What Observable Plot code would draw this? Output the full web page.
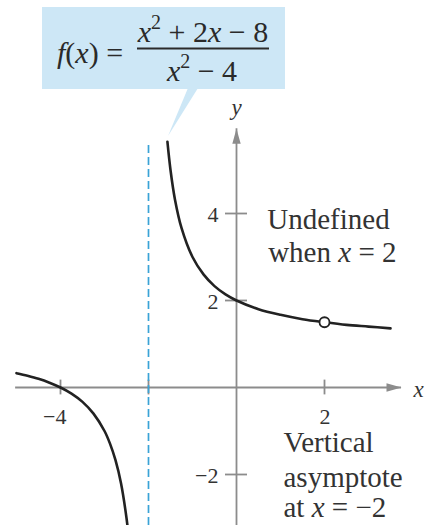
<!DOCTYPE html>
<html><head><meta charset="utf-8">
<script src="https://cdn.jsdelivr.net/npm/d3@7"></script>
<script src="https://cdn.jsdelivr.net/npm/@observablehq/plot@0.6"></script>
<style>
body{margin:0;background:#fff;}
#wrap{position:relative;width:429px;height:525px;overflow:hidden;font-family:"Liberation Serif","Times New Roman",serif;}
#wrap > svg{position:absolute;left:0;top:0;}
</style></head><body><div id="wrap"></div>
<script>
// Left branch of the curve
const leftX = [-5.0, -4.75, -4.5, -4.25, -4.0, -3.75, -3.5, -3.25, -3.0, -2.875, -2.75, -2.625, -2.5, -2.45];
const leftY = [0.33, 0.27, 0.2, 0.11, 0.0, -0.14, -0.33, -0.6, -1.0, -1.29, -1.67, -2.2, -3.0, -3.45];
// Right branch of the curve
const rightX = [-1.57, -1.5, -1.4, -1.25, -1.0, -0.75, -0.5, -0.25, 0.0, 0.5, 1.0, 1.5, 2.0, 2.5, 3.0, 3.5];
const rightY = [5.65, 5.0, 4.33, 3.67, 3.0, 2.6, 2.33, 2.14, 2.0, 1.8, 1.67, 1.57, 1.5, 1.44, 1.4, 1.36];
// Hole (undefined point)
const holeX = [2];
const holeY = [1.5];
// Vertical asymptote
const asymptoteX = [-2];
// Ticks
const xTicks = [-4, -2, 2];
const xTickLabels = ["−4", "", "2"];
const yTicks = [4, 2, -2];
const yTickLabels = ["4", "2", "−2"];
// Annotation lines
const noteLines = ["Undefined", "when x = 2", "Vertical", "asymptote", "at x = −2"];
const noteX = [0.70, 0.72, 1.068, 1.068, 1.068];
const noteY = [3.655, 2.874, -1.494, -2.29, -2.97];

// layout config
const X_DOMAIN = [-236 / 44, 193 / 44];
const Y_DOMAIN = [(387 - 525) / 43.5, 387 / 43.5];
const X_AXIS_EXTENT = [-5.02, 3.75];
const Y_AXIS_EXTENT = [-3.3, 5.95];
const ASYM_TOP = 5.62;
const INK = "#222";
const AXIS = "#8c8c8c";
const LABEL = "#333";
const BLUE = "#3aa3d6";

const left = leftX.map((x, i) => ({x, y: leftY[i]}));
const right = rightX.map((x, i) => ({x, y: rightY[i]}));
const hole = holeX.map((x, i) => ({x, y: holeY[i]}));
const xt = xTicks.map((t, i) => ({t, label: xTickLabels[i]}));
const yt = yTicks.map((t, i) => ({t, label: yTickLabels[i]}));
const notes = noteLines.map((s, i) => ({s, x: noteX[i], y: noteY[i]}));

const arrowHead = {
  draw(ctx) {
    ctx.moveTo(0, 0);
    ctx.lineTo(4.2, 15);
    ctx.lineTo(-4.2, 15);
    ctx.closePath();
  }
};

const chart = Plot.plot({
  width: 429,
  height: 525,
  margin: 0,
  style: {fontFamily: '"Liberation Serif","Times New Roman",serif', background: "transparent", overflow: "visible"},
  x: {domain: X_DOMAIN, axis: null},
  y: {domain: Y_DOMAIN, axis: null},
  marks: [
    // axes
    Plot.ruleY([0], {x1: X_AXIS_EXTENT[0], x2: X_AXIS_EXTENT[1], stroke: AXIS, strokeWidth: 1.8}),
    Plot.ruleX([0], {y1: Y_AXIS_EXTENT[0], y2: Y_AXIS_EXTENT[1], stroke: AXIS, strokeWidth: 1.8}),
    Plot.dot([{x: X_AXIS_EXTENT[1], y: 0}], {x: "x", y: "y", symbol: arrowHead, rotate: 90, fill: AXIS, stroke: "none"}),
    Plot.dot([{x: 0, y: Y_AXIS_EXTENT[1]}], {x: "x", y: "y", symbol: arrowHead, rotate: 0, fill: AXIS, stroke: "none"}),
    // ticks
    Plot.ruleX(xt, {x: "t", y1: -0.17, y2: 0.17, stroke: AXIS, strokeWidth: 1.8}),
    Plot.ruleY(yt, {y: "t", x1: -0.25, x2: 0.25, stroke: AXIS, strokeWidth: 1.8}),
    Plot.text(xt, {x: "t", y: 0, text: "label", textAnchor: "end", dx: 6, dy: 29, fontSize: 22, fill: LABEL}),
    Plot.text(yt, {x: 0, y: "t", text: "label", textAnchor: "end", dx: -18, dy: 1, fontSize: 22, fill: LABEL}),
    Plot.text(["x"], {x: X_AXIS_EXTENT[1], y: 0, text: d => d, dx: 17, dy: 2, fontSize: 23, fill: LABEL}),
    Plot.text(["y"], {x: 0, y: Y_AXIS_EXTENT[1], text: d => d, dy: -21, fontSize: 23, fill: LABEL, fontStyle: "italic"}),
    // asymptote
    Plot.ruleX(asymptoteX, {x: d => d, y1: Y_DOMAIN[0], y2: ASYM_TOP, stroke: BLUE, strokeWidth: 1.7, strokeDasharray: "8,4"}),
    // curve
    Plot.line(left, {x: "x", y: "y", curve: "catmull-rom", stroke: INK, strokeWidth: 2.6}),
    Plot.line(right, {x: "x", y: "y", curve: "catmull-rom", stroke: INK, strokeWidth: 2.6}),
    Plot.dot(hole, {x: "x", y: "y", r: 5, fill: "white", stroke: INK, strokeWidth: 1.8}),
    // notes
    Plot.text(notes, {x: "x", y: "y", text: "s", textAnchor: "start", lineAnchor: "bottom", fontSize: 29, fill: LABEL})
  ]
});

// italicize standalone variable x in texts
d3.select(chart).selectAll("text").each(function() {
  const el = this;
  if (el.querySelector("tspan")) return;
  const s = el.textContent;
  if (!/(^|\s)x(\s|$)/.test(s)) return;
  el.textContent = "";
  s.split(/((?:^|(?<=\s))x(?=\s|$))/).forEach(part => {
    if (!part) return;
    const ts = document.createElementNS("http://www.w3.org/2000/svg", "tspan");
    ts.textContent = part;
    if (part === "x") ts.setAttribute("font-style", "italic");
    el.appendChild(ts);
  });
});

const wrap = document.getElementById("wrap");
wrap.appendChild(chart);

// callout with the formula
const callout = d3.create("svg").attr("width", 429).attr("height", 525)
  .style("pointer-events", "none")
  .style("font-family", '"Liberation Serif","Times New Roman",serif');
callout.append("polygon").attr("points", "188,88 198,88 168,136").attr("fill", "#cde7f6");
callout.append("rect").attr("x", 42).attr("y", 7).attr("width", 243).attr("height", 82).attr("fill", "#cde7f6");
const fx = callout.append("text").attr("x", 57).attr("y", 63).attr("font-size", 30).attr("fill", "#2a2a2a");
fx.append("tspan").attr("font-style", "italic").text("f");
fx.append("tspan").text("(");
fx.append("tspan").attr("font-style", "italic").text("x");
fx.append("tspan").text(") =");
const num = callout.append("text").attr("x", 203).attr("y", 42).attr("text-anchor", "middle").attr("font-size", 30).attr("fill", "#2a2a2a");
num.append("tspan").attr("font-style", "italic").text("x");
num.append("tspan").attr("font-size", 20).attr("dy", -13).text("2");
num.append("tspan").attr("dy", 13).text(" + 2");
num.append("tspan").attr("font-style", "italic").text("x");
num.append("tspan").text(" − 8");
callout.append("line").attr("x1", 137).attr("x2", 269).attr("y1", 48.5).attr("y2", 48.5).attr("stroke", "#2a2a2a").attr("stroke-width", 2);
const den = callout.append("text").attr("x", 202).attr("y", 81).attr("text-anchor", "middle").attr("font-size", 30).attr("fill", "#2a2a2a");
den.append("tspan").attr("font-style", "italic").text("x");
den.append("tspan").attr("font-size", 20).attr("dy", -13).text("2");
den.append("tspan").attr("dy", 13).text(" − 4");
wrap.appendChild(callout.node());
</script>
</body></html>
